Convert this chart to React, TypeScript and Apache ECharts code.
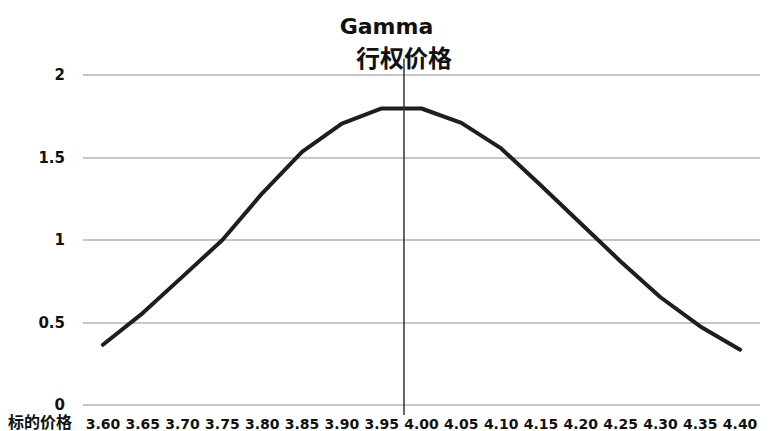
import { useEffect, useRef } from 'react';
import * as echarts from 'echarts';

// underlying price (x axis categories)
const prices = ['3.60', '3.65', '3.70', '3.75', '3.80', '3.85', '3.90', '3.95', '4.00', '4.05', '4.10', '4.15', '4.20', '4.25', '4.30', '4.35', '4.40'];
// gamma
const gamma = [0.365, 0.557, 0.778, 1.0, 1.283, 1.534, 1.706, 1.797, 1.797, 1.71, 1.555, 1.33, 1.1, 0.87, 0.653, 0.476, 0.335];
// strike sits between 3.95 and 4.00
const strike = 3.978;
const strikeTop = 2.1;
const strikeBottom = -0.06;

const FONT = '"DejaVu Sans", "Noto Sans CJK SC", sans-serif';

export default function App() {
  const ref = useRef<HTMLDivElement>(null);

  useEffect(() => {
    if (!ref.current) return;
    const chart = echarts.init(ref.current, undefined, { renderer: 'svg' });

    // position of the strike on the category index scale
    const strikeIdx = (strike - Number(prices[0])) / 0.05;

    const option: any = {
      animation: false,
      backgroundColor: '#fff',
      title: {
        text: 'Gamma',
        left: 'center',
        top: 10,
        textStyle: { fontFamily: FONT, fontSize: 22, fontWeight: 'bold', color: '#111' },
      },
      // keep the grid fixed, axis name sits right at the bottom edge
      grid: { left: 83, right: 13, top: 75, bottom: 26, containLabel: false, outerBoundsMode: 'none' },
      xAxis: [
        {
          type: 'category',
          data: prices,
          boundaryGap: true,
          axisLine: { show: false },
          axisTick: { show: false },
          axisLabel: { fontFamily: FONT, fontSize: 14, fontWeight: 'bold', color: '#111', margin: 12, interval: 0 },
          name: '标的价格',
          nameLocation: 'start',
          nameGap: 11,
          nameTextStyle: {
            fontFamily: FONT,
            fontSize: 16,
            fontWeight: 'bold',
            color: '#111',
            verticalAlign: 'top',
            padding: [9, 0, 0, 0],
          },
        },
        {
          type: 'value',
          min: -0.5,
          max: prices.length - 0.5,
          show: false,
        },
      ],
      yAxis: {
        type: 'value',
        min: 0,
        max: 2,
        interval: 0.5,
        axisLine: { show: false },
        axisTick: { show: false },
        axisLabel: { fontFamily: FONT, fontSize: 15, fontWeight: 'bold', color: '#111', margin: 18 },
        splitLine: { lineStyle: { color: '#b4b4b4', width: 1.5 } },
      },
      series: [
        {
          type: 'line',
          data: gamma,
          symbol: 'none',
          lineStyle: { color: '#1e1e1e', width: 4, cap: 'round', join: 'round' },
          z: 3,
        },
        {
          type: 'line',
          xAxisIndex: 1,
          clip: false,
          symbol: 'circle',
          symbolSize: 0,
          lineStyle: { color: '#333', width: 1.5 },
          z: 4,
          data: [
            {
              value: [strikeIdx, strikeTop],
              label: {
                show: true,
                position: 'inside',
                formatter: '行权价格',
                fontFamily: FONT,
                fontSize: 24,
                fontWeight: 'bold',
                color: '#111',
              },
            },
            { value: [strikeIdx, strikeBottom] },
          ],
        },
      ],
    };

    chart.setOption(option);
    return () => chart.dispose();
  }, []);

  return <div ref={ref} style={{ position: 'fixed', left: 0, top: 0, width: 773, height: 431 }} />;
}
